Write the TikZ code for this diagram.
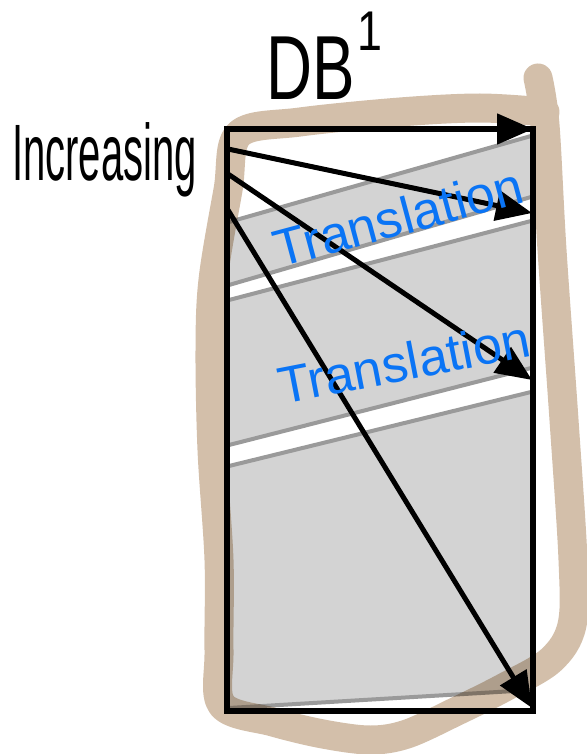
\documentclass[tikz,border=0pt]{standalone}
\usepackage{fontspec}
\setmainfont{Liberation Sans}
\usetikzlibrary{arrows.meta}
\definecolor{loopTan}{HTML}{D3BFAA}
\definecolor{bandFill}{HTML}{D3D3D3}
\definecolor{bandLine}{HTML}{9A9A9A}
\definecolor{inkBlue}{HTML}{0A74F5}
\begin{document}
\begin{tikzpicture}[x=1pt,y=-1pt,
  band/.style={fill=bandFill,draw=none},
  bandedge/.style={draw=bandLine,line width=4pt},
  frame/.style={draw=black,line width=6pt,line join=miter},
  arr/.style={draw=black,line width=5pt,-{Triangle[length=36pt,width=30pt]}},
  loopstroke/.style={draw=loopTan,line width=29pt,line cap=round,line join=round,blend mode=multiply},
  hand/.style={inner sep=0pt,text=black},
  bluehand/.style={inner sep=0pt,text=inkBlue,font=\fontsize{52}{52}\selectfont}]
\useasboundingbox (0,0) rectangle (586,754);
% gray bands
\fill[band] (229,222) -- (531,136) -- (531,197) -- (229,285) -- cycle;
\fill[band] (229,300) -- (531,221) -- (531,368) -- (229,445) -- cycle;
\fill[band] (229,466) -- (531,392) -- (531,690) -- (229,708) -- cycle;
\draw[bandedge] (229,222) -- (531,136);
\draw[bandedge] (229,285) -- (531,197);
\draw[bandedge] (229,300) -- (531,221);
\draw[bandedge] (229,445) -- (531,368);
\draw[bandedge] (229,466) -- (531,392);
\draw[bandedge] (229,708) -- (531,690);
% frame
\draw[frame] (227,129) rectangle (533,711);
% arrow end points
\coordinate (s1) at (227,129);
\coordinate (e1) at (533,129);
\coordinate (s2) at (228,149);
\coordinate (e2) at (532,213);
\coordinate (s3) at (228,174);
\coordinate (e3) at (532,380);
\coordinate (s4) at (228,210);
\coordinate (e4) at (532,708);
\draw[arr] (s1) -- (e1);
\draw[arr] (s2) -- (e2);
\draw[arr] (s3) -- (e3);
\draw[arr] (s4) -- (e4);
% labels
\node[hand,anchor=base west,xscale=0.7] (db) at (266,100)
  {\fontsize{91}{91}\selectfont DB};
\node[hand,anchor=base west,xscale=0.8] (dbsup) at (357,51)
  {\fontsize{56}{56}\selectfont 1};
\node[hand,anchor=base west,xscale=0.5] (inc) at (12,181)
  {\fontsize{80}{80}\selectfont Increasing};
\node[bluehand,rotate=15] (tr1) at (398,217) {Translation};
\node[bluehand,rotate=11] (tr2) at (404,362) {Translation};
% tan loop
\draw[loopstroke] plot[smooth,tension=0.55] coordinates {
  (538,78) (545,125) (552,250) (564,420) (573,560) (572,625) (551,660)
  (505,687) (457,711) (407,734) (370,740) (323,734) (273,722) (222,705)
  (219,650) (219,560) (212,450) (210,350) (213,280) (228,190) (239,134)
  (300,122) (400,112) (480,108) (545,112)};
\end{tikzpicture}
\end{document}
